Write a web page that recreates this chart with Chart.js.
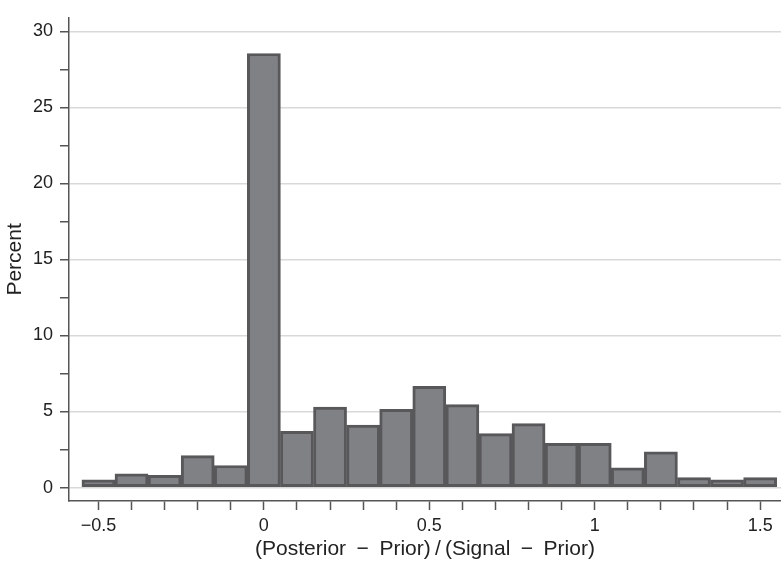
<!DOCTYPE html>
<html>
<head>
<meta charset="utf-8">
<script src="https://cdn.jsdelivr.net/npm/chart.js@4/dist/chart.umd.min.js"></script>
<style>
  html, body { margin: 0; padding: 0; background: #ffffff; }
</style>
</head>
<body>
<canvas id="chart-hist" width="781" height="562"></canvas>
<script>
// bin centres of the histogram (bin width 0.1)
const binCenters = [-0.5, -0.4, -0.3, -0.2, -0.1, 0, 0.1, 0.2, 0.3, 0.4, 0.5,
                    0.6, 0.7, 0.8, 0.9, 1.0, 1.1, 1.2, 1.3, 1.4, 1.5];
// percent of observations in each bin
const percents = [0.5, 0.9, 0.8, 2.1, 1.45, 28.55, 3.7, 5.3, 4.1, 5.15, 6.65,
                  5.45, 3.55, 4.2, 2.9, 2.9, 1.3, 2.35, 0.65, 0.5, 0.65];
// labelled ticks
const xTickLabels = [-0.5, 0, 0.5, 1, 1.5];
const yTickLabels = [0, 5, 10, 15, 20, 25, 30];

const FONT = "'Liberation Sans', Arial, Helvetica, sans-serif";
const AXIS_COLOR = '#555557';

let chart = new Chart(document.getElementById('chart-hist'), {
    type: 'bar',
    data: {
        datasets: [{
            label: 'Percent',
            data: binCenters.map((x, i) => ({x: x, y: percents[i]})),
            backgroundColor: '#808185',
            borderColor: '#58585b',
            borderWidth: 3,
            borderSkipped: false,
            barPercentage: 1,
            categoryPercentage: 1
        }]
    },
    options: {
        responsive: false,
        animation: false,
        layout: {
            padding: {top: 9, right: 0, bottom: 0, left: 0}
        },
        plugins: {
            legend: {display: false},
            tooltip: {enabled: false}
        },
        scales: {
            x: {
                type: 'linear',
                offset: false,
                min: -0.589,
                max: 1.563,
                grid: {
                    offset: false,
                    drawOnChartArea: false,
                    drawTicks: true,
                    tickLength: 9,
                    tickColor: AXIS_COLOR,
                    tickWidth: 1.5
                },
                border: {display: true, color: AXIS_COLOR, width: 1.5},
                ticks: {
                    stepSize: 0.1,
                    includeBounds: false,
                    autoSkip: false,
                    maxRotation: 0,
                    padding: 5,
                    color: '#222',
                    font: {family: FONT, size: 18},
                    callback: function (value) {
                        const v = Math.round(value * 10) / 10;
                        if (!xTickLabels.includes(v)) {
                            return '';
                        }
                        return v < 0 ? '\u2212' + Math.abs(v) : String(v);
                    }
                },
                title: {
                    display: true,
                    // math-style spacing around the operators
                    text: '(Posterior\u2002\u2212\u2002Prior)\u2009/\u2009(Signal\u2002\u2212\u2002Prior)',
                    color: '#222',
                    font: {family: FONT, size: 21},
                    padding: {top: 0, bottom: 0}
                },
                afterFit: function (scale) {
                    scale.height = 61;
                }
            },
            y: {
                min: -0.886,
                max: 30.9,
                grid: {
                    color: ctx => yTickLabels.includes(ctx.tick.value) ? '#d9d9d9' : 'rgba(0,0,0,0)',
                    lineWidth: 1.5,
                    tickLength: 9,
                    tickColor: AXIS_COLOR,
                    tickWidth: 1.5
                },
                border: {display: true, color: AXIS_COLOR, width: 1.5},
                ticks: {
                    stepSize: 2.5,
                    includeBounds: false,
                    autoSkip: false,
                    padding: 7,
                    color: '#222',
                    font: {family: FONT, size: 18},
                    callback: function (value) {
                        return yTickLabels.includes(value) ? String(value) : '';
                    }
                },
                title: {
                    display: true,
                    text: 'Percent',
                    color: '#222',
                    font: {family: FONT, size: 21},
                    padding: {top: 3, bottom: 0}
                },
                afterFit: function (scale) {
                    scale.width = 69;
                }
            }
        }
    }
});
</script>
</body>
</html>
